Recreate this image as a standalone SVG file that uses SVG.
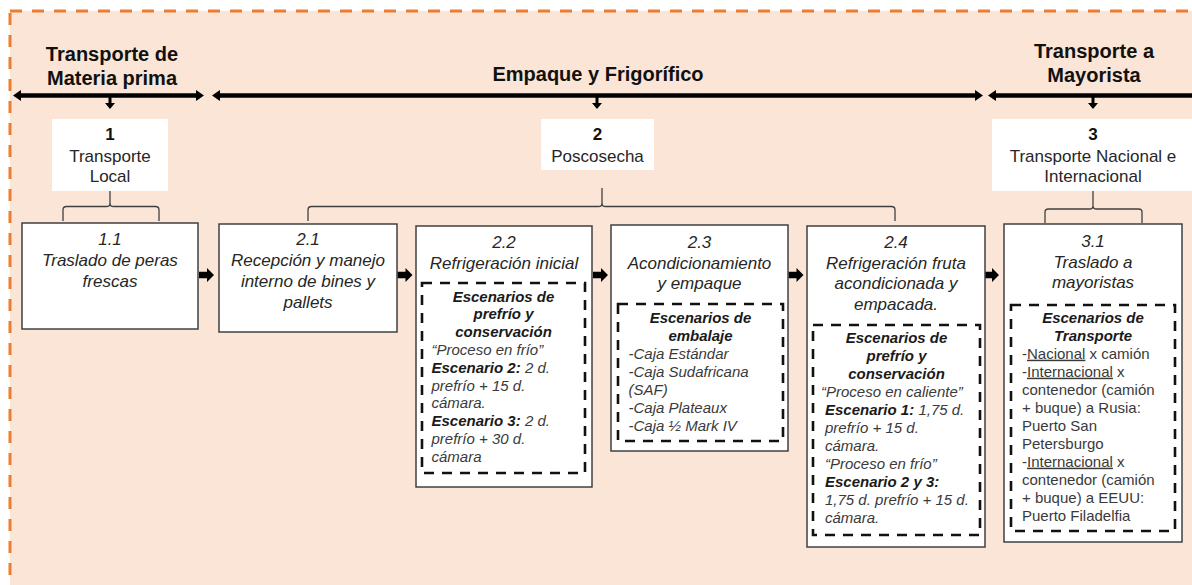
<svg xmlns="http://www.w3.org/2000/svg" width="1192" height="585" viewBox="0 0 1192 585">
  <style>
    text { font-family: "Liberation Sans", Arial, sans-serif; }
    .bg { fill: #FBE5D6; stroke: #ED7D31; stroke-width: 3; stroke-dasharray: 12 10; }
    .hdr { font-size: 20px; font-weight: bold; fill: #111; text-anchor: middle; }
    .lbl { fill: #fff; }
    .lt { font-size: 17px; fill: #262626; text-anchor: middle; }
    .lt .n { font-weight: bold; fill: #111; }
    .box { fill: #fff; stroke: #404040; stroke-width: 1.5; }
    .dash { fill: none; stroke: #111; stroke-width: 2.6; stroke-dasharray: 10 8; }
    .ttl { font-size: 17px; font-style: italic; fill: #262626; text-anchor: middle; }
    .sh { font-size: 15px; font-style: italic; font-weight: bold; fill: #1a1a1a; text-anchor: middle; }
    .bd { font-size: 15px; font-style: italic; fill: #3a3a3a; }
    .rg { font-size: 15px; fill: #3a3a3a; }
    .b { font-weight: bold; fill: #1a1a1a; }
    .u { text-decoration: underline; }
    .brace { fill: none; stroke: #404040; stroke-width: 1.3; }
    .bar { stroke: #000; stroke-width: 4.5; fill: none; }
    .stem { stroke: #404040; stroke-width: 1.3; }
  </style>
  <defs>
    <marker id="ah" viewBox="0 0 8 11" refX="2" refY="5.5" markerWidth="8" markerHeight="11" markerUnits="userSpaceOnUse" orient="auto-start-reverse">
      <path d="M0,0 L8,5.5 L0,11 Z" fill="#000"/>
    </marker>
    <path id="down" d="M-1.5,-1 H1.5 V5 H5 L0,11 L-5,5 H-1.5 Z" fill="#000"/>
    <path id="blk" d="M0,-3.2 H8 V-7 L15,0 L8,7 V3.2 H0 Z" fill="#000"/>
  </defs>

  <!-- peach frame -->
  <rect class="bg" x="10" y="11" width="1200" height="600"/>

  <!-- stage headings -->
  <g id="hdr-materia">
    <text class="hdr" x="112" y="61">Transporte de</text>
    <text class="hdr" x="112" y="84.5">Materia prima</text>
  </g>
  <g id="hdr-empaque">
    <text class="hdr" x="598" y="81">Empaque y Frigorífico</text>
  </g>
  <g id="hdr-mayorista">
    <text class="hdr" x="1094" y="57.5">Transporte a</text>
    <text class="hdr" x="1094" y="81.5">Mayorista</text>
  </g>

  <!-- connectors -->
  <g id="connectors">
    <line class="bar" x1="19" y1="95.5" x2="198" y2="95.5" marker-start="url(#ah)" marker-end="url(#ah)"/>
    <line class="bar" x1="218" y1="95.5" x2="977" y2="95.5" marker-start="url(#ah)" marker-end="url(#ah)"/>
    <line class="bar" x1="994" y1="95.5" x2="1200" y2="95.5" marker-start="url(#ah)"/>

    <use href="#down" x="110" y="98"/>
    <use href="#down" x="597" y="98"/>
    <use href="#down" x="1093" y="98"/>

    <line class="stem" x1="110" y1="188" x2="110" y2="204"/>
    <line class="stem" x1="602" y1="188" x2="602" y2="204"/>
    <line class="stem" x1="1093" y1="188" x2="1093" y2="206"/>

    <path class="brace" d="M63,221 V210 Q63,206.5 66.5,206.5 H106.5 Q110,206.5 110,203.5 Q110,206.5 113.5,206.5 H155.5 Q159,206.5 159,210 V221"/>
    <path class="brace" d="M308,221 V210 Q308,206.5 311.5,206.5 H598.5 Q602,206.5 602,203.5 Q602,206.5 605.5,206.5 H891.5 Q895,206.5 895,210 V221"/>
    <path class="brace" d="M1045,223 V212 Q1045,209 1048.5,209 H1089.5 Q1093,209 1093,206 Q1093,209 1096.5,209 H1138.5 Q1142,209 1142,212 V223"/>

    <use href="#blk" x="199" y="275"/>
    <use href="#blk" x="397.5" y="275"/>
    <use href="#blk" x="593" y="275"/>
    <use href="#blk" x="788.5" y="275"/>
    <use href="#blk" x="984" y="275"/>
  </g>

  <!-- stage labels -->
  <g id="n1">
    <rect class="lbl" x="52" y="119" width="116" height="72"/>
    <text class="lt" x="110" y="140"><tspan class="n">1</tspan></text>
    <text class="lt" x="110" y="162">Transporte</text>
    <text class="lt" x="110" y="182">Local</text>
  </g>
  <g id="n2">
    <rect class="lbl" x="541" y="119" width="113" height="51"/>
    <text class="lt" x="597.5" y="140"><tspan class="n">2</tspan></text>
    <text class="lt" x="597.5" y="162">Poscosecha</text>
  </g>
  <g id="n3">
    <rect class="lbl" x="992" y="119" width="210" height="72"/>
    <text class="lt" x="1093" y="139.5"><tspan class="n">3</tspan></text>
    <text class="lt" x="1093" y="162">Transporte Nacional e</text>
    <text class="lt" x="1093" y="182">Internacional</text>
  </g>

  <!-- process steps -->
  <g id="n1-1">
    <rect class="box" x="22" y="223" width="176" height="106"/>
    <text class="ttl" x="110" y="244.5">1.1</text>
    <text class="ttl" x="110" y="266">Traslado de peras</text>
    <text class="ttl" x="110" y="287">frescas</text>
  </g>

  <g id="n2-1">
    <rect class="box" x="219" y="224" width="178" height="108"/>
    <text class="ttl" x="308" y="245">2.1</text>
    <text class="ttl" x="308" y="266">Recepción y manejo</text>
    <text class="ttl" x="308" y="287">interno de bines y</text>
    <text class="ttl" x="308" y="308">pallets</text>
  </g>

  <g id="n2-2">
    <rect class="box" x="416" y="226" width="176" height="261"/>
    <text class="ttl" x="504" y="248">2.2</text>
    <text class="ttl" x="504" y="268.5">Refrigeración inicial</text>
    <rect class="dash" x="422" y="283" width="163" height="190"/>
    <text class="sh" x="503.5" y="301.5">Escenarios de</text>
    <text class="sh" x="503.5" y="319.3">prefrío y</text>
    <text class="sh" x="503.5" y="337">conservación</text>
    <text class="bd" x="431.5" y="355">“Proceso en frío”</text>
    <text class="bd" x="431.5" y="372.7"><tspan class="b">Escenario 2:</tspan> 2 d.</text>
    <text class="bd" x="431.5" y="390.5">prefrío + 15 d.</text>
    <text class="bd" x="431.5" y="408.3">cámara.</text>
    <text class="bd" x="431.5" y="426"><tspan class="b">Escenario 3:</tspan> 2 d.</text>
    <text class="bd" x="431.5" y="443.8">prefrío + 30 d.</text>
    <text class="bd" x="431.5" y="461.5">cámara</text>
  </g>

  <g id="n2-3">
    <rect class="box" x="611" y="225" width="177" height="226"/>
    <text class="ttl" x="699.5" y="248">2.3</text>
    <text class="ttl" x="699.5" y="268.5">Acondicionamiento</text>
    <text class="ttl" x="699.5" y="289">y empaque</text>
    <rect class="dash" x="618" y="304" width="165" height="137"/>
    <text class="sh" x="700.5" y="322.7">Escenarios de</text>
    <text class="sh" x="700.5" y="340.7">embalaje</text>
    <text class="bd" x="628.5" y="358.5">-Caja Estándar</text>
    <text class="bd" x="628.5" y="376.5">-Caja Sudafricana</text>
    <text class="bd" x="628.5" y="394.5">(SAF)</text>
    <text class="bd" x="628.5" y="412.5">-Caja Plateaux</text>
    <text class="bd" x="628.5" y="430.5">-Caja ½ Mark IV</text>
  </g>

  <g id="n2-4">
    <rect class="box" x="807" y="226" width="178" height="321"/>
    <text class="ttl" x="896" y="248">2.4</text>
    <text class="ttl" x="896" y="268.5">Refrigeración fruta</text>
    <text class="ttl" x="896" y="289">acondicionada y</text>
    <text class="ttl" x="896" y="310">empacada.</text>
    <rect class="dash" x="813" y="325" width="167" height="210"/>
    <text class="sh" x="896.5" y="343.3">Escenarios de</text>
    <text class="sh" x="896.5" y="361.3">prefrío y</text>
    <text class="sh" x="896.5" y="379.3">conservación</text>
    <text class="bd" x="821" y="397.3">“Proceso en caliente”</text>
    <text class="bd" x="825" y="415.3"><tspan class="b">Escenario 1:</tspan> 1,75 d.</text>
    <text class="bd" x="825" y="433.3">prefrío + 15 d.</text>
    <text class="bd" x="825" y="451.3">cámara.</text>
    <text class="bd" x="825" y="469.3">“Proceso en frío”</text>
    <text class="bd" x="825" y="487.3"><tspan class="b">Escenario 2 y 3:</tspan></text>
    <text class="bd" x="825" y="505.3">1,75 d. prefrío + 15 d.</text>
    <text class="bd" x="825" y="523.3">cámara.</text>
  </g>

  <g id="n3-1">
    <rect class="box" x="1004" y="224" width="178" height="318"/>
    <text class="ttl" x="1093" y="247">3.1</text>
    <text class="ttl" x="1093" y="267.5">Traslado a</text>
    <text class="ttl" x="1093" y="287.5">mayoristas</text>
    <rect class="dash" x="1011" y="305" width="164" height="226"/>
    <text class="sh" x="1093" y="322.7">Escenarios de</text>
    <text class="sh" x="1093" y="340.7">Transporte</text>
    <text class="rg" x="1022" y="358.7">-<tspan class="u">Nacional</tspan> x camión</text>
    <text class="rg" x="1022" y="376.7">-<tspan class="u">Internacional</tspan> x</text>
    <text class="rg" x="1022" y="394.7">contenedor (camión</text>
    <text class="rg" x="1022" y="412.7">+ buque) a Rusia:</text>
    <text class="rg" x="1022" y="430.7">Puerto San</text>
    <text class="rg" x="1022" y="448.7">Petersburgo</text>
    <text class="rg" x="1022" y="466.7">-<tspan class="u">Internacional</tspan> x</text>
    <text class="rg" x="1022" y="484.7">contenedor (camión</text>
    <text class="rg" x="1022" y="502.7">+ buque) a EEUU:</text>
    <text class="rg" x="1022" y="520.7">Puerto Filadelfia</text>
  </g>
</svg>
